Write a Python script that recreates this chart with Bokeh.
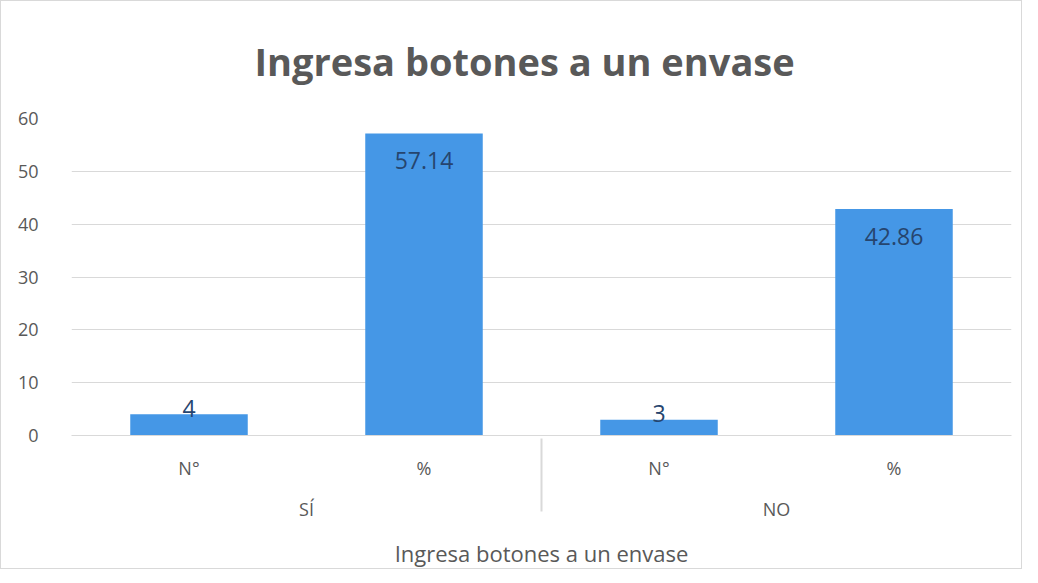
from bokeh.plotting import figure
from bokeh.models import FactorRange, Range1d, ColumnDataSource, SingleIntervalTicker
from bokeh.embed import file_html
from bokeh.resources import INLINE
from bokeh.core.properties import value

title_text = "Ingresa botones a un envase"
axis_title = "Ingresa botones a un envase"
groups = ["SÍ", "SÍ", "NO", "NO"]
subcats = ["N°", "%", "N°", "%"]
values = [4, 57.14, 3, 42.86]
labels = ["4", "57.14", "3", "42.86"]

factors = list(zip(groups, subcats))
FONT = "Open Sans"
GREY = "#595959"

p = figure(width=1022, height=569, output_backend="svg", toolbar_location=None,
           x_range=FactorRange(*factors, group_padding=0, factor_padding=0, range_padding=0),
           y_range=Range1d(0, 60),
           min_border_left=70, min_border_right=12, min_border_top=10, min_border_bottom=6)
p.styles = {"border": "1px solid #d9d9d9"}

p.title.text = title_text
p.title.align = "left"
p.title.offset = 183
p.title.text_font = FONT
p.title.text_font_size = "38px"
p.title.text_font_style = "bold"
p.title.text_color = GREY
p.title.standoff = 63

offsets = [27 if v > 10 else -6 for v in values]
src = ColumnDataSource(dict(x=factors, top=values, label=labels, off=offsets))
p.vbar(x="x", top="top", width=0.5, source=src, fill_color="#4597e6", line_color=None)
p.text(x="x", y="top", text="label", y_offset="off", source=src,
       text_align="center", text_baseline="middle", text_font=value(FONT),
       text_font_size="23px", text_color="#26456e")

p.outline_line_color = None
p.xgrid.grid_line_color = None
p.ygrid.grid_line_color = "#d9d9d9"
p.yaxis.ticker = SingleIntervalTicker(interval=10)
p.yaxis.axis_line_color = None
p.yaxis.major_tick_line_color = None
p.yaxis.minor_tick_line_color = None
p.yaxis.major_label_text_font = FONT
p.yaxis.major_label_text_font_size = "18px"
p.yaxis.major_label_text_color = GREY
p.yaxis.major_label_standoff = 27

xa = p.xaxis[0]
xa.axis_line_color = "#d9d9d9"
xa.major_tick_line_color = None
xa.minor_tick_line_color = None
xa.major_label_text_font = FONT
xa.major_label_text_font_size = "18px"
xa.major_label_text_color = GREY
xa.major_label_standoff = 14
xa.group_text_font = FONT
xa.group_text_font_size = "18px"
xa.group_text_color = GREY
xa.group_text_font_style = "normal"
xa.separator_line_color = "#d9d9d9"
xa.axis_label = axis_title
xa.axis_label_text_font = FONT
xa.axis_label_text_font_size = "22px"
xa.axis_label_text_color = GREY
xa.axis_label_text_font_style = "normal"
xa.axis_label_standoff = 14

open("out.html", "w").write(file_html(p, INLINE))
